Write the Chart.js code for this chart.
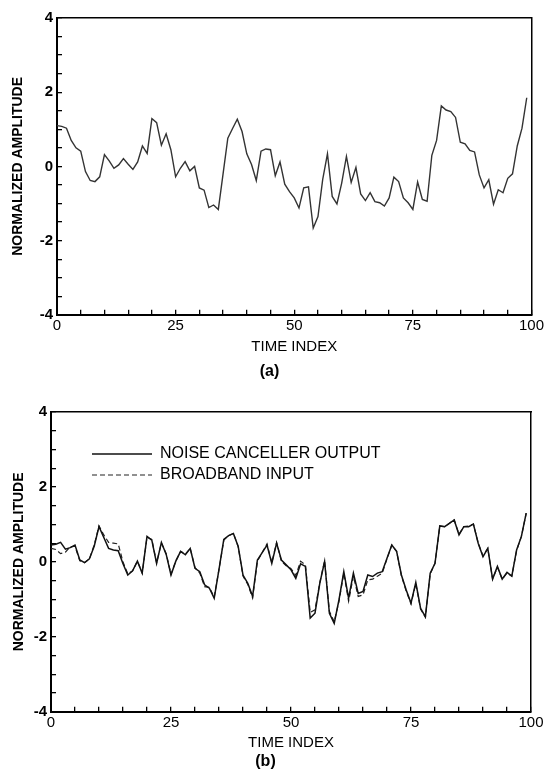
<!DOCTYPE html>
<html>
<head>
<meta charset="utf-8">
<script src="https://cdn.jsdelivr.net/npm/chart.js@4.4.0/dist/chart.umd.min.js"></script>
<style>
  body { margin: 0; background: #fff; }
  .panel { position: absolute; left: 0; width: 551px; height: 390px; }
</style>
</head>
<body>
<div class="panel" style="top:0"><canvas id="chartA"></canvas></div>
<div class="panel" style="top:390px"><canvas id="chartB"></canvas></div>
<script>
// (a) single trace
const traceA = [
  1.10, 1.08, 1.03, 0.70, 0.50, 0.41, -0.14, -0.38, -0.41, -0.28,
  0.32, 0.15, -0.05, 0.04, 0.21, 0.06, -0.08, 0.12, 0.55, 0.35,
  1.29, 1.18, 0.57, 0.88, 0.45, -0.28, -0.05, 0.13, -0.12, 0.00,
  -0.58, -0.64, -1.11, -1.04, -1.16, -0.20, 0.76, 1.02, 1.27, 0.94,
  0.34, 0.05, -0.38, 0.41, 0.47, 0.45, -0.25, 0.12, -0.48, -0.68,
  -0.85, -1.12, -0.58, -0.55, -1.66, -1.35, -0.35, 0.34, -0.81, -1.01,
  -0.45, 0.27, -0.43, -0.03, -0.74, -0.92, -0.71, -0.95, -0.98, -1.07,
  -0.85, -0.29, -0.41, -0.85, -0.98, -1.16, -0.42, -0.89, -0.94, 0.30,
  0.70, 1.63, 1.52, 1.48, 1.32, 0.65, 0.61, 0.43, 0.39, -0.23,
  -0.58, -0.36, -1.02, -0.63, -0.71, -0.32, -0.20, 0.55, 1.03, 1.85
];

// (b) noise canceller output vs broadband input
const cancellerOutput = [
  0.45, 0.47, 0.52, 0.34, 0.38, 0.45, 0.05, -0.02, 0.08, 0.42,
  0.94, 0.65, 0.36, 0.32, 0.30, -0.05, -0.35, -0.24, 0.02, -0.30,
  0.68, 0.58, -0.04, 0.52, 0.20, -0.35, 0.02, 0.28, 0.19, 0.36,
  -0.17, -0.26, -0.61, -0.70, -0.97, -0.20, 0.60, 0.70, 0.76, 0.41,
  -0.35, -0.57, -0.92, 0.05, 0.25, 0.45, -0.04, 0.50, 0.05, -0.08,
  -0.21, -0.44, -0.05, -0.12, -1.50, -1.37, -0.57, 0.01, -1.37, -1.64,
  -1.01, -0.26, -0.97, -0.30, -0.84, -0.79, -0.35, -0.39, -0.30, -0.26,
  0.10, 0.45, 0.28, -0.35, -0.75, -1.10, -0.55, -1.24, -1.46, -0.30,
  -0.04, 0.96, 0.94, 1.03, 1.12, 0.72, 0.94, 0.94, 1.01, 0.50,
  0.14, 0.36, -0.46, -0.12, -0.46, -0.28, -0.38, 0.32, 0.68, 1.30
];
const broadbandInput = [
  0.36, 0.33, 0.22, 0.26, 0.40, 0.42, 0.03, -0.02, 0.08, 0.45,
  0.96, 0.72, 0.52, 0.50, 0.48, 0.00, -0.32, -0.24, 0.02, -0.30,
  0.66, 0.60, -0.02, 0.50, 0.22, -0.33, 0.02, 0.28, 0.21, 0.36,
  -0.15, -0.30, -0.66, -0.68, -0.94, -0.20, 0.58, 0.70, 0.76, 0.41,
  -0.38, -0.60, -0.96, 0.02, 0.25, 0.48, -0.02, 0.52, 0.02, -0.10,
  -0.18, -0.36, 0.02, -0.08, -1.35, -1.28, -0.55, 0.03, -1.32, -1.60,
  -1.05, -0.30, -1.05, -0.38, -0.92, -0.88, -0.48, -0.46, -0.38, -0.30,
  0.08, 0.45, 0.28, -0.37, -0.78, -1.12, -0.58, -1.26, -1.48, -0.32,
  -0.04, 0.96, 0.94, 1.03, 1.12, 0.74, 0.94, 0.96, 1.01, 0.50,
  0.16, 0.36, -0.46, -0.14, -0.46, -0.30, -0.38, 0.30, 0.68, 1.30
];

const xTickLabels = [0, 25, 50, 75, 100];
const yTickLabels = [-4, -2, 0, 2, 4];

const FONT = "'Liberation Sans', Arial, sans-serif";

function points(values) {
  return values.map((v, i) => ({ x: i, y: v }));
}

// shifts a chartArea legend away from the top-left corner
const legendNudge = {
  id: "legendNudge",
  afterLayout(chart, args, opts) {
    if (!chart.legend || !opts.dx) return;
    chart.legend.left += opts.dx;
    chart.legend.right += opts.dx;
    chart.legend.top += opts.dy;
    chart.legend.bottom += opts.dy;
  }
};

// legend samples drawn as the dataset's own line (dash + width)
function lineLabels(chart) {
  const items = Chart.defaults.plugins.legend.labels.generateLabels(chart);
  return items.map((item) => {
    const ds = chart.data.datasets[item.datasetIndex];
    item.lineDash = ds.borderDash || [];
    item.lineWidth = ds.borderWidth;
    item.strokeStyle = ds.borderColor;
    return item;
  });
}

function buildOptions(p) {
  return {
    responsive: true,
    maintainAspectRatio: false,
    animation: false,
    layout: { padding: { left: 0, right: p.right, top: p.top, bottom: p.bottom } },
    elements: { point: { radius: 0 }, line: { tension: 0 } },
    plugins: {
      tooltip: { enabled: false },
      legend: p.legend ? {
        position: "chartArea",
        align: "start",
        labels: {
          usePointStyle: true,
          pointStyle: "line",
          pointStyleWidth: 60,
          padding: 5,
          color: "#000",
          font: { family: FONT, size: 16 },
          generateLabels: lineLabels
        }
      } : { display: false },
      legendNudge: { dx: p.legendDx || 0, dy: p.legendDy || 0 },
      title: {
        display: true,
        position: "bottom",
        text: p.caption,
        color: "#000",
        font: { family: FONT, size: 16, weight: "bold" },
        padding: { top: p.captionPad, bottom: 0 }
      }
    },
    scales: {
      x: {
        type: "linear",
        min: 0,
        max: 100,
        afterFit: (s) => { s.height = p.xHeight; },
        border: { color: "#000", width: 2 },
        grid: { drawOnChartArea: false, color: "#000", tickLength: -5, lineWidth: 1.3 },
        ticks: {
          stepSize: 5,
          autoSkip: false,
          maxRotation: 0,
          padding: 7,
          color: "#000",
          font: { family: FONT, size: 15 },
          callback: (v) => xTickLabels.includes(v) ? String(v) : ""
        },
        title: {
          display: true,
          text: "TIME INDEX",
          color: "#000",
          font: { family: FONT, size: 15 },
          padding: { top: 0, bottom: 0 }
        }
      },
      y: {
        min: -4,
        max: 4,
        afterFit: (s) => { s.width = p.yWidth; },
        border: { color: "#000", width: 2 },
        grid: { drawOnChartArea: false, color: "#000", tickLength: -5, lineWidth: 1.3 },
        ticks: {
          stepSize: 0.5,
          autoSkip: false,
          padding: 9,
          color: "#000",
          font: { family: FONT, size: 15, weight: "bold" },
          callback: (v) => yTickLabels.includes(v) ? String(v) : ""
        },
        title: {
          display: true,
          text: "NORMALIZED AMPLITUDE",
          color: "#000",
          font: { family: FONT, size: 14, weight: "bold" },
          padding: { top: p.yTitlePad, bottom: 0 }
        }
      },
      x2: {
        type: "linear",
        position: "top",
        min: 0,
        max: 100,
        afterFit: (s) => { s.height = 0; },
        border: { color: "#000", width: 1.5 },
        grid: { display: false },
        ticks: { display: false }
      },
      y2: {
        position: "right",
        min: -4,
        max: 4,
        afterFit: (s) => { s.width = 0; },
        border: { color: "#000", width: 1.5 },
        grid: { display: false },
        ticks: { display: false }
      }
    }
  };
}

new Chart(document.getElementById("chartA"), {
  type: "line",
  data: {
    datasets: [
      {
        label: "(a)",
        data: points(traceA),
        borderColor: "#333",
        borderWidth: 1.4
      }
    ]
  },
  options: buildOptions({
    top: 13, right: 12, bottom: 9,
    xHeight: 41, yWidth: 57, yTitlePad: 10,
    caption: "(a)", captionPad: 6
  }),
  plugins: [legendNudge]
});

new Chart(document.getElementById("chartB"), {
  type: "line",
  data: {
    datasets: [
      {
        label: "NOISE CANCELLER OUTPUT",
        data: points(cancellerOutput),
        borderColor: "#111",
        backgroundColor: "#111",
        borderWidth: 1.5
      },
      {
        label: "BROADBAND INPUT",
        data: points(broadbandInput),
        borderColor: "#222",
        backgroundColor: "#222",
        borderWidth: 1.2,
        borderDash: [5, 3]
      }
    ]
  },
  options: buildOptions({
    top: 22, right: 20, bottom: 9,
    xHeight: 40, yWidth: 51, yTitlePad: 11,
    caption: "(b)", captionPad: 0,
    legend: true, legendDx: 36, legendDy: 51
  }),
  plugins: [legendNudge]
});
</script>
</body>
</html>
